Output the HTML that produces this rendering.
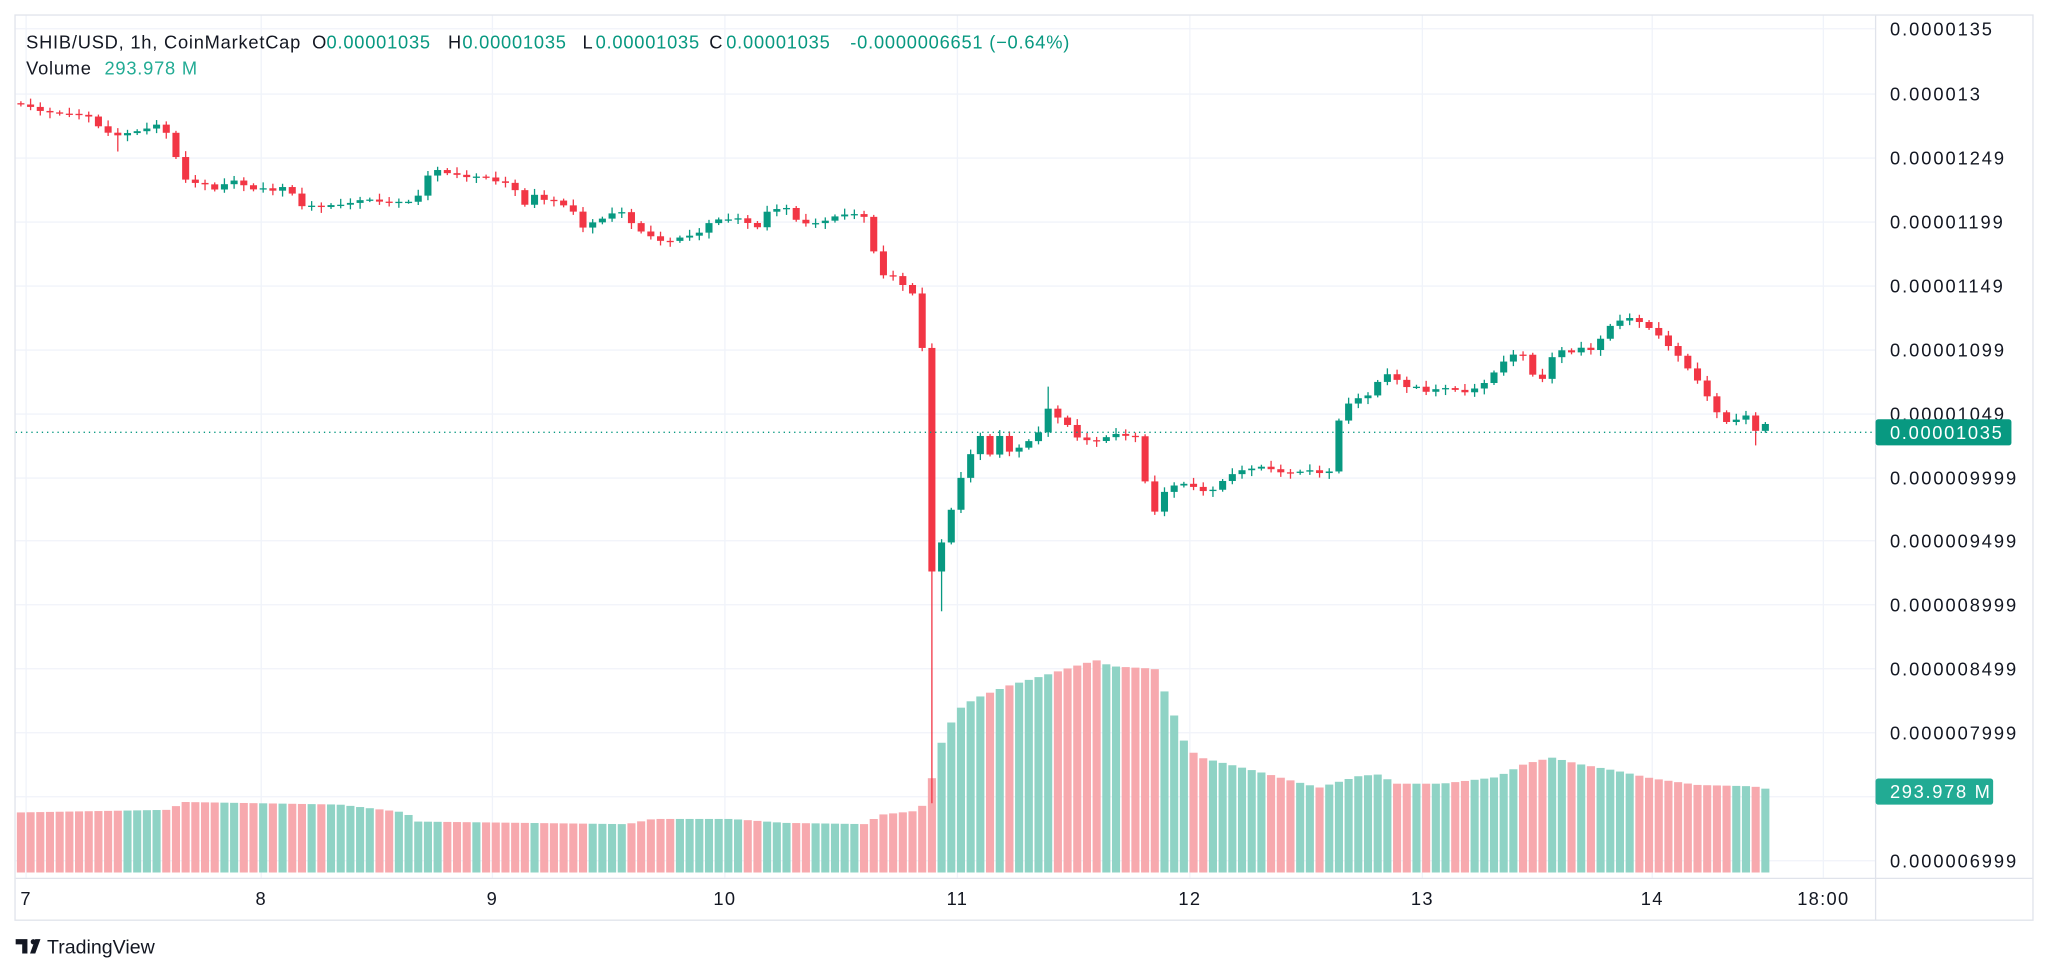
<!DOCTYPE html>
<html><head><meta charset="utf-8"><style>
html,body{margin:0;padding:0;background:#fff;width:2048px;height:974px;overflow:hidden}
svg{display:block}
text{font-family:"Liberation Sans",sans-serif}
</style></head><body>
<svg id="c" width="2048" height="974" viewBox="0 0 1568 745.7" xmlns="http://www.w3.org/2000/svg">
<rect width="1568" height="746" fill="#fff"/>
<g id="grid"></g>
<g id="vol"></g>
<g id="cand"></g>
<line x1="12" y1="331" x2="1436" y2="331" stroke="#089981" stroke-width="1" stroke-dasharray="1 3"/>
<rect x="11.5" y="11.5" width="1545" height="693" fill="none" stroke="#e0e3eb" stroke-width="1"/>
<line x1="1436" y1="12" x2="1436" y2="704" stroke="#e0e3eb"/>
<line x1="12" y1="672.5" x2="1556" y2="672.5" stroke="#e0e3eb"/>
<g id="axis" font-size="14" letter-spacing="1.5" fill="#131722"></g>
<rect x="1436" y="321" width="104" height="20" rx="2" fill="#089981"/>
<text x="1447" y="336" font-size="14" letter-spacing="1.3" fill="#fff">0.00001035</text>
<rect x="1436" y="596" width="90" height="20" rx="2" fill="#22ab94"/>
<text x="1447" y="611" font-size="14" letter-spacing="1.3" fill="#fff">293.978 M</text>
<g font-size="14" letter-spacing="0.6" fill="#131722">
<text x="20" y="37">SHIB/USD, 1h, CoinMarketCap</text>
<text x="239" y="37">O</text><text x="250" y="37" fill="#089981">0.00001035</text>
<text x="343" y="37">H</text><text x="354" y="37" fill="#089981">0.00001035</text>
<text x="446" y="37">L</text><text x="456" y="37" fill="#089981">0.00001035</text>
<text x="543" y="37">C</text><text x="556" y="37" fill="#089981">0.00001035</text>
<text x="651" y="37" fill="#089981">-0.0000006651 (−0.64%)</text>
<text x="20" y="57">Volume</text><text x="80" y="57" fill="#22ab94">293.978 M</text>
</g>
<g fill="#131722" font-size="14" letter-spacing="1">
<text x="20" y="693" text-anchor="middle">7</text>
<text x="200" y="693" text-anchor="middle">8</text>
<text x="377" y="693" text-anchor="middle">9</text>
<text x="555" y="693" text-anchor="middle">10</text>
<text x="733" y="693" text-anchor="middle">11</text>
<text x="911" y="693" text-anchor="middle">12</text>
<text x="1089" y="693" text-anchor="middle">13</text>
<text x="1265" y="693" text-anchor="middle">14</text>
<text x="1396" y="693" text-anchor="middle">18:00</text>
</g>
<g transform="translate(12,717)">
<path d="M0 2h9v11h-4v-7h-5z M11 13l4-11h4l-4 11z" fill="#131722"/>
<circle cx="13.5" cy="4" r="2" fill="#131722"/>
<text x="24" y="13" font-size="15" fill="#131722">TradingView</text>
</g>
</svg>
<script>
(function(){
var NS="http://www.w3.org/2000/svg";
function el(p,t,a){var e=document.createElementNS(NS,t);for(var k in a)e.setAttribute(k,a[k]);p.appendChild(e);return e;}
var grid=document.getElementById('grid'),axis=document.getElementById('axis');
var labs=[["0.0000135",22],["0.000013",72],["0.00001249",121],["0.00001199",170],["0.00001149",219],["0.00001099",268],["0.00001049",317],["0.000009999",366],["0.000009499",414],["0.000008999",463],["0.000008499",512],["0.000007999",561],["0.000007499",610],["0.000006999",659]];
labs.forEach(function(l){el(grid,'line',{x1:12,x2:1436,y1:l[1],y2:l[1],stroke:'#f0f3fa'});
 if(l[1]!==610){var t=el(axis,'text',{x:1447,y:l[1]+5});t.textContent=l[0];}});
[20,200,377,555,733,911,1089,1265,1396].forEach(function(x){el(grid,'line',{x1:x,x2:x,y1:12,y2:672,stroke:'#f0f3fa'});});
var K=[[16,80],[24,82],[31,85],[38,86],[45,87],[52,87],[60,88],[66,87],[73,95],[80,100],[87,104],[95,103],[102,100],[109,101],[117,95],[124,96],[131,108],[138,131],[145,142],[152,139],[159,142],[166,146],[173,140],[180,138],[187,142],[194,145],[201,144],[209,146],[216,143],[223,147],[230,158],[237,157],[244,159],[252,157],[259,157],[266,156],[273,154],[280,152],[288,154],[295,155],[302,154],[309,155],[316,154],[323,147],[330,128],[337,131],[344,133],[351,134],[359,136],[366,135],[373,136],[380,139],[387,140],[395,146],[402,157],[409,149],[416,153],[423,153],[431,157],[438,160],[445,175],[452,171],[459,168],[466,166],[473,159],[481,168],[488,176],[495,179],[502,183],[510,186],[516,183],[524,181],[531,180],[538,177],[545,168],[552,168],[559,168],[566,167],[573,171],[580,174],[588,161],[595,160],[602,159],[609,168],[616,171],[623,171],[630,170],[637,166],[644,165],[651,163],[658,165],[665,167],[672,212],[679,210],[686,212],[691,218],[699,225],[706,265],[713.5,438],[721,415],[728.4,390],[736,365],[743,348],[751,333],[758,348],[765,333],[772,346],[779,344],[786,337],[793,340],[800,310],[807,318],[814,322],[821,329],[828,340],[835,335],[842,339],[849,333],[856,332],[863,334],[870,334],[877,370],[884,392],[891,377],[898,372],[905,370],[912,372],[919,375],[926,378],[933,370],[940,366],[947,360],[954,360],[961,358],[968,357],[975,360],[982,362],[989,362],[996,361],[1003,360],[1010,362],[1017,366],[1022,330],[1029,312],[1036,306],[1043,304],[1050,302],[1057,288],[1064,286],[1071,292],[1078,297],[1085,296],[1092,300],[1099,298],[1106,297],[1113,298],[1120,301],[1127,298],[1134,296],[1141,288],[1148,281],[1155,272],[1162,271],[1169,272],[1176,295],[1183,288],[1190,269],[1197,268],[1204,270],[1211,266],[1218,268],[1225,260],[1232,250],[1239,246],[1246,243],[1253,245],[1260,250],[1267,253],[1274,262],[1281,268],[1288,276],[1295,286],[1302,294],[1309,307],[1316,318],[1323,324],[1330,321],[1337,318],[1344,330],[1351,324],[1358,331]];
var V=[[16,622],[130,620],[140,614],[260,616],[310,622],[320,629],[480,631],[500,627],[560,627],[600,630],[665,631],[672,624],[700,621],[709,615],[716,585],[722,565],[730,550],[737,540],[751,533],[772,525],[800,517],[830,508],[842,505],[849,510],[884,512],[891,528],[898,545],[905,565],[912,575],[919,580],[940,585],[968,592],[990,598],[1010,603],[1020,600],[1041,594],[1055,593],[1069,600],[1104,600],[1146,595],[1167,585],[1188,580],[1209,585],[1237,590],[1265,596],[1300,601],[1342,602],[1358,605]];
function interp(A,x){if(x<=A[0][0])return A[0][1];for(var i=1;i<A.length;i++){if(x<=A[i][0]){var a=A[i-1],b=A[i];return a[1]+(b[1]-a[1])*(x-a[0])/(b[0]-a[0]);}}return A[A.length-1][1];}
var cand=document.getElementById('cand'),vol=document.getElementById('vol');
var prev=79;
for(var i=0;i<=181;i++){
 var x=16+i*7.42; if(x>1359)break;
 var c=interp(K,x);
 var o=prev; if(i==181){o=c=331;}
 var up=c<=o; var col=up?'#089981':'#F23645';
 var bt=Math.min(o,c),bb=Math.max(o,c);
 var hi=bt-1.5-((i*7)%4),lo=bb+1.5+((i*5)%4);
 if(i==94){lo=615;}
 if(i==95){lo=468;}
 if(Math.abs(x-800)<4){hi=296;}
 if(Math.abs(x-87)<4){lo=116;}
 if(Math.abs(x-1343)<4){lo=341;}
 var vy=interp(V,x);
 el(vol,'rect',{x:x-3.1,y:vy,width:6.2,height:668-vy,fill:up?'#8fd3c5':'#f7a9ae'});
 el(cand,'line',{x1:x,x2:x,y1:hi,y2:lo,stroke:col,'stroke-width':1});
 el(cand,'rect',{x:x-2.7,y:bt,width:5.4,height:Math.max(bb-bt,1),fill:col});
 prev=c;
}
})();
</script>
</body></html>
